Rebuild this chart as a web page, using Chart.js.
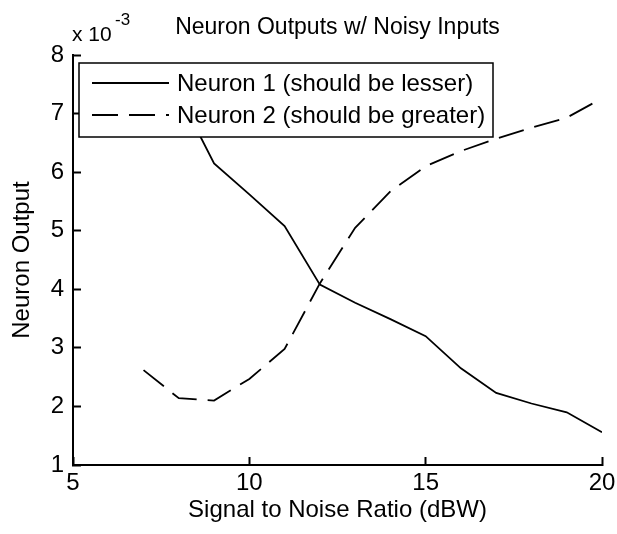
<!DOCTYPE html>
<html lang="en">
<head>
<meta charset="UTF-8">
<title>Neuron Outputs w/ Noisy Inputs</title>
<script src="https://cdn.jsdelivr.net/npm/chart.js"></script>
<style>
  body { margin: 0; background: #fff; }
  #wrap { width: 617px; height: 534px; position: relative; }
</style>
</head>
<body>
<div id="wrap"><canvas id="chart"></canvas></div>

<script>
  // SNR sweep (dBW) and the two neuron outputs (units of 1e-3)
  const snr = [7, 8, 9, 10, 11, 12, 13, 14, 15, 16, 17, 18, 19, 20];
  const neuron1 = [7.7, 7.33, 6.15, 5.62, 5.08, 4.08, 3.77, 3.49, 3.2, 2.65, 2.23, 2.05, 1.9, 1.56];
  const neuron2 = [2.62, 2.14, 2.1, 2.47, 2.98, 4.1, 5.05, 5.67, 6.1, 6.36, 6.57, 6.76, 6.93, 7.26];
  const seriesNames = ['Neuron 1 (should be lesser)', 'Neuron 2 (should be greater)'];
  const xTicks = [5, 10, 15, 20];
  const yTicks = [1, 2, 3, 4, 5, 6, 7, 8];

  const FONT = "'Liberation Sans', Arial, sans-serif";
  const DASH = [26, 11];

  // exponent label above the y axis
  const exponentLabel = {
    id: 'exponentLabel',
    afterDraw(chart) {
      const { ctx, chartArea: a } = chart;
      ctx.save();
      ctx.fillStyle = '#000';
      ctx.textBaseline = 'alphabetic';
      ctx.textAlign = 'left';
      ctx.font = '21px ' + FONT;
      ctx.fillText('x 10', a.left - 1, 41);
      ctx.font = '17px ' + FONT;
      ctx.fillText('-3', a.left + 42, 25);
      ctx.restore();
    }
  };

  // boxed legend drawn over the lines inside the plot
  const boxLegend = {
    id: 'boxLegend',
    afterDatasetsDraw(chart) {
      const { ctx, chartArea: a } = chart;
      const bx = a.left + 6, by = a.top + 8, bw = 414, bh = 74;
      ctx.save();
      ctx.fillStyle = '#fff';
      ctx.fillRect(bx, by, bw, bh);
      ctx.strokeStyle = '#000';
      ctx.lineWidth = 1.5;
      ctx.strokeRect(bx, by, bw, bh);

      const rows = [by + 20, by + 52];
      chart.data.datasets.forEach((ds, i) => {
        ctx.beginPath();
        ctx.setLineDash(ds.borderDash || []);
        ctx.lineWidth = ds.borderWidth;
        ctx.moveTo(bx + 13, rows[i]);
        ctx.lineTo(bx + 90, rows[i]);
        ctx.stroke();
        ctx.setLineDash([]);
        ctx.fillStyle = '#000';
        ctx.font = '24px ' + FONT;
        ctx.textBaseline = 'middle';
        ctx.fillText(ds.label, bx + 98, rows[i] + 1);
      });
      ctx.restore();
    }
  };

  // ticks point into the plot (negative tick length)
  const tickGrid = {
    display: true,
    drawOnChartArea: false,
    drawTicks: true,
    tickLength: -8,
    tickWidth: 2,
    tickColor: '#000'
  };

  new Chart(document.getElementById('chart'), {
    type: 'line',
    data: {
      datasets: [
        {
          label: seriesNames[0],
          data: snr.map((s, i) => ({ x: s, y: neuron1[i] })),
          borderColor: '#000',
          borderWidth: 1.8,
          pointRadius: 0,
          tension: 0
        },
        {
          label: seriesNames[1],
          data: snr.map((s, i) => ({ x: s, y: neuron2[i] })),
          borderColor: '#000',
          borderWidth: 1.8,
          borderDash: DASH,
          pointRadius: 0,
          tension: 0
        }
      ]
    },
    options: {
      responsive: true,
      maintainAspectRatio: false,
      animation: false,
      layout: { padding: { left: 0, right: 15, top: 0, bottom: 0 } },
      plugins: {
        legend: { display: false },
        tooltip: { enabled: false },
        title: {
          display: true,
          text: 'Neuron Outputs w/ Noisy Inputs',
          fullSize: false,
          color: '#000',
          font: { family: FONT, size: 23, weight: 'normal' },
          padding: { top: 14, bottom: 13.4 }
        }
      },
      scales: {
        x: {
          type: 'linear',
          min: 5,
          max: 20,
          afterFit(scale) {
            scale.height = 69;
            scale.paddingLeft = 0;
            scale.paddingRight = 0;
          },
          afterBuildTicks(scale) { scale.ticks = xTicks.map(v => ({ value: v })); },
          grid: tickGrid,
          border: { display: true, color: '#000', width: 2 },
          ticks: { color: '#000', padding: 12, font: { family: FONT, size: 24 } },
          title: {
            display: true,
            text: 'Signal to Noise Ratio (dBW)',
            color: '#000',
            font: { family: FONT, size: 24 },
            padding: { top: 0, bottom: 9 }
          }
        },
        y: {
          min: 1,
          max: 8,
          afterFit(scale) { scale.width = 73; },
          afterBuildTicks(scale) { scale.ticks = yTicks.map(v => ({ value: v })); },
          grid: tickGrid,
          border: { display: true, color: '#000', width: 2 },
          ticks: { color: '#000', padding: 17, font: { family: FONT, size: 24 } },
          title: {
            display: true,
            text: 'Neuron Output',
            color: '#000',
            font: { family: FONT, size: 24 },
            padding: { top: 8, bottom: 0 }
          }
        }
      }
    },
    plugins: [exponentLabel, boxLegend]
  });
</script>
</body>
</html>
